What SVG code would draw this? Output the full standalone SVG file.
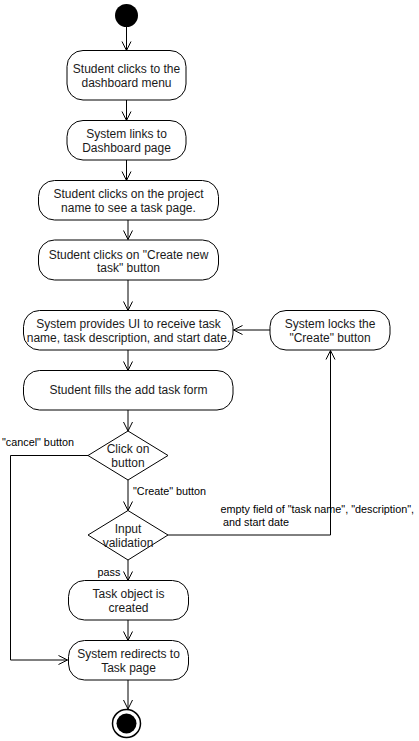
<svg xmlns="http://www.w3.org/2000/svg" width="419" height="741" viewBox="0 0 419 741">
<style>
.n{fill:#fff;stroke:#000;stroke-width:1}
.t{font-family:"Liberation Sans",Arial,sans-serif;font-size:12px;fill:#1a1a1a;text-anchor:middle;dominant-baseline:central}
.l{font-family:"Liberation Sans",Arial,sans-serif;font-size:10.8px;fill:#000;dominant-baseline:central}
.c{fill:none;stroke:#000;stroke-width:1;marker-end:url(#a)}
</style>
<defs>
<marker id="a" markerUnits="userSpaceOnUse" markerWidth="12" markerHeight="12" viewBox="0 0 12 12" refX="10" refY="6" orient="auto">
<path d="M1,1.5 L10,6 L1,10.5" fill="none" stroke="#000" stroke-width="1"/>
</marker>
</defs>
<rect width="419" height="741" fill="#fff"/>
<g id="connectors">
<path class="c" d="M126.5,27 V50.5"/>
<path class="c" d="M126.5,100 V120.5"/>
<path class="c" d="M126.5,160 V180.5"/>
<path class="c" d="M128,220 V239.5"/>
<path class="c" d="M128,280 V310.5"/>
<path class="c" d="M270,330 H233.5"/>
<path class="c" d="M128,350 V370.5"/>
<path class="c" d="M128,410 V431"/>
<path class="c" d="M88,455.5 H10.5 V660 H67.5"/>
<path class="c" d="M128,480 V510.5"/>
<path class="c" d="M168,535 H330.5 V350.5"/>
<path class="c" d="M128,560 V580.5"/>
<path class="c" d="M128,620 V640.5"/>
<path class="c" d="M128,680 V709"/>
<text class="l" x="2" y="441.5">"cancel" button</text>
<text class="l" x="133" y="490.5">"Create" button</text>
<text class="l" x="220.5" y="509">empty field of "task name", "description",</text>
<text class="l" x="223" y="522">and start date</text>
<text class="l" x="97.5" y="571.5">pass</text>
</g>
<g id="start"><circle cx="126.5" cy="15.5" r="11.5" fill="#000"/></g>
<g id="n1"><rect class="n" x="67" y="50.5" width="119" height="49.5" rx="16"/><text class="t" x="126.5" y="69">Student clicks to the</text><text class="t" x="126.5" y="83">dashboard menu</text></g>
<g id="n2"><rect class="n" x="67" y="120.5" width="119" height="39.5" rx="16"/><text class="t" x="126.5" y="134">System links to</text><text class="t" x="126.5" y="148">Dashboard page</text></g>
<g id="n3"><rect class="n" x="38.5" y="180.5" width="180" height="39.5" rx="16"/><text class="t" x="128.5" y="194">Student clicks on the project</text><text class="t" x="128.5" y="208">name to see a task page.</text></g>
<g id="n4"><rect class="n" x="38.5" y="240" width="180" height="40" rx="16"/><text class="t" x="128.5" y="254.5">Student clicks on "Create new</text><text class="t" x="128.5" y="267.5">task" button</text></g>
<g id="n5"><rect class="n" x="23.5" y="310.5" width="209.5" height="39.5" rx="16"/><text class="t" x="128.5" y="324">System provides UI to receive task</text><text class="t" x="128.5" y="338">name, task description, and start date.</text></g>
<g id="lock"><rect class="n" x="270" y="310.5" width="120" height="39.5" rx="16"/><text class="t" x="330" y="324">System locks the</text><text class="t" x="330" y="338">"Create" button</text></g>
<g id="n6"><rect class="n" x="23.5" y="370.5" width="209.5" height="39.5" rx="16"/><text class="t" x="128.5" y="390">Student fills the add task form</text></g>
<g id="d1"><path class="n" d="M128,431 L168,455.5 L128,480 L88,455.5 Z"/><text class="t" x="128" y="449">Click on</text><text class="t" x="128" y="462.5">button</text></g>
<g id="d2"><path class="n" d="M128,510.5 L168,535 L128,560 L88,535 Z"/><text class="t" x="128" y="529">Input</text><text class="t" x="128" y="542.5">validation</text></g>
<g id="n7"><rect class="n" x="68.5" y="580.5" width="120" height="39.5" rx="16"/><text class="t" x="128.5" y="594">Task object is</text><text class="t" x="128.5" y="608">created</text></g>
<g id="n8"><rect class="n" x="68.5" y="640.5" width="120" height="39.5" rx="16"/><text class="t" x="128.5" y="654">System redirects to</text><text class="t" x="128.5" y="668">Task page</text></g>
<g id="end"><circle cx="126.5" cy="723.5" r="14" fill="#fff" stroke="#000" stroke-width="1.5"/><circle cx="126.5" cy="723.5" r="10" fill="#000"/></g>
</svg>
